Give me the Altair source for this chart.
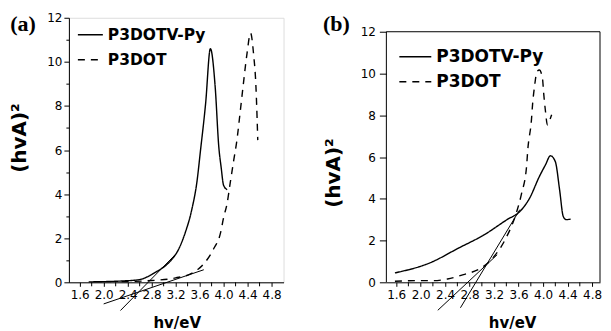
import altair as alt
import pandas as pd

SERIES = ["P3DOTV-Py", "P3DOT"]

# ---------------- panel (a) ----------------
a_py_x = [1.75, 2.00, 2.30, 2.59, 2.86, 3.09, 3.14, 3.25, 3.36, 3.47, 3.56, 3.61, 3.70, 3.78, 3.86, 3.92, 3.96, 4.00, 4.06]
a_py_y = [0.02, 0.03, 0.06, 0.12, 0.45, 0.90, 1.05, 1.50, 2.25, 3.30, 4.65, 5.86, 8.10, 10.60, 8.86, 6.15, 5.20, 4.40, 4.20]

a_dot_x = [2.30, 2.80, 3.20, 3.45, 3.58, 3.64, 3.83, 3.95, 4.00, 4.06, 4.11, 4.17, 4.22, 4.28, 4.33, 4.39, 4.45, 4.50, 4.54, 4.56, 4.57]
a_dot_y = [0.03, 0.08, 0.20, 0.38, 0.60, 0.75, 1.50, 2.25, 2.93, 3.60, 4.50, 5.55, 6.40, 7.80, 9.00, 10.36, 11.30, 10.36, 8.86, 7.36, 6.45]

a_tan_id = ["t1", "t1", "t2", "t2"]
a_tan_x = [2.00, 3.67, 2.28, 3.20]
a_tan_y = [-0.98, 0.57, -1.28, 1.27]

# ---------------- panel (b) ----------------
b_py_x = [1.58, 2.15, 2.62, 3.04, 3.41, 3.62, 3.78, 3.94, 4.04, 4.12, 4.20, 4.27, 4.33, 4.38, 4.45]
b_py_y = [0.45, 0.93, 1.64, 2.28, 3.00, 3.39, 4.03, 5.07, 5.63, 6.06, 5.78, 4.43, 3.15, 3.00, 3.03]

b_dot_x = [1.58, 1.94, 2.20, 2.44, 2.70, 2.99, 3.20, 3.38, 3.57, 3.65, 3.73, 3.75, 3.81, 3.83, 3.86, 3.90, 3.94, 3.99, 4.01, 4.04, 4.07, 4.12, 4.14]
b_dot_y = [0.05, 0.08, 0.08, 0.16, 0.37, 0.69, 1.24, 2.04, 3.39, 4.27, 5.54, 6.34, 7.78, 8.58, 9.37, 10.09, 10.17, 9.77, 9.05, 8.17, 7.54, 7.86, 8.02]

b_tan_id = ["t1", "t1", "t2", "t2"]
b_tan_x = [2.28, 3.25, 2.65, 3.62]
b_tan_y = [-1.34, 1.32, -1.22, 3.48]

# ---------------- ticks ----------------
x_major_ticks = [1.6, 2.0, 2.4, 2.8, 3.2, 3.6, 4.0, 4.4, 4.8]
x_minor_ticks = [1.8, 2.2, 2.6, 3.0, 3.4, 3.8, 4.2, 4.6]
y_ticks = [0, 1, 2, 3, 4, 5, 6, 7, 8, 9, 10, 11, 12]

TICK_FONT = "DejaVu Sans"
BOLD_FONT = "DejaVu Sans"


def panel(tag, py_x, py_y, dot_x, dot_y, tan_id, tan_x, tan_y, xdom, ydom,
          width, height, ytick_major, ytick_minor, ylabel_pad, ytitle_pad,
          ytitle_y, xtitle_x, leg_x, leg_y, leg_font, leg_size, leg_row_pad,
          tag_x, tag_y, boxed):
    curves = pd.concat([
        pd.DataFrame({"x": py_x, "y": py_y, "series": SERIES[0]}),
        pd.DataFrame({"x": dot_x, "y": dot_y, "series": SERIES[1]}),
    ])
    tangents = pd.DataFrame({"x": tan_x, "y": tan_y, "id": tan_id})
    minor = pd.DataFrame({"x": x_minor_ticks})

    xaxis = alt.Axis(
        values=x_major_ticks, format=".1f", labelOverlap=False, labelSeparation=0,
        labelFont=TICK_FONT, labelFontSize=12, labelColor="black",
        labelPadding=3, tickSize=4, tickColor="black", domainColor="black",
        grid=False, title="hv/eV", titleFont=BOLD_FONT, titleFontSize=15,
        titleFontWeight="bold", titleColor="black", titlePadding=15,
        titleX=xtitle_x, labelFlush=False, labelBound=False,
    )
    yaxis = alt.Axis(
        values=y_ticks,
        labelExpr="datum.value % 2 == 0 ? datum.value : ''",
        labelOverlap=False, labelFont=TICK_FONT, labelFontSize=12, labelColor="black",
        labelPadding=ylabel_pad,
        tickSize={"condition": {"test": "datum.value % 2 == 0", "value": ytick_major}, "value": ytick_minor},
        tickColor="black", domainColor="black", domain=not boxed,
        grid=False, title="(hvA)²", titleFont=BOLD_FONT, titleFontSize=20,
        titleFontWeight="bold", titleColor="black", titlePadding=ytitle_pad,
        titleY=ytitle_y, labelFlush=False, labelBound=False,
    )
    xs = alt.Scale(domain=xdom, nice=False, zero=False)
    ys = alt.Scale(domain=ydom, nice=False, zero=False)
    X = alt.X("x:Q", scale=xs, axis=xaxis)
    Y = alt.Y("y:Q", scale=ys, axis=yaxis)

    lines = alt.Chart(curves).mark_line(color="black", strokeWidth=1.4, interpolate="monotone").encode(
        x=X,
        y=Y,
        strokeDash=alt.StrokeDash(
            "series:N", title=None,
            scale=alt.Scale(domain=SERIES, range=[[1, 0], [7, 6]]),
            legend=alt.Legend(
                orient="none", legendX=leg_x, legendY=leg_y, symbolType="stroke",
                symbolStrokeColor="black", symbolStrokeWidth=1.5, symbolSize=leg_size,
                labelFont=BOLD_FONT, labelFontWeight="bold", labelFontSize=leg_font,
                labelColor="black", labelOffset=4, rowPadding=leg_row_pad, padding=0,
            ),
        ),
        order=alt.Order("x:Q"),
    )
    tan = alt.Chart(tangents).mark_line(color="black", strokeWidth=1).encode(
        x=X, y=Y, detail="id:N"
    )
    minor_ticks = alt.Chart(minor).mark_rule(color="black", strokeWidth=1).encode(
        x=X, y=alt.value(height), y2=alt.value(height + 4)
    )
    label = alt.Chart(pd.DataFrame({"t": [tag]})).mark_text(
        font="Liberation Serif", fontWeight="bold", fontSize=22, color="black",
        align="center", baseline="middle"
    ).encode(text="t:N", x=alt.value(tag_x), y=alt.value(tag_y))

    layers = [lines, tan, minor_ticks, label]
    if boxed:
        box_df = pd.DataFrame({"v": [ydom[0]]})
        top = alt.Chart(box_df).mark_rule(color="black", strokeWidth=1).encode(
            y=alt.datum(12), x=alt.value(0), x2=alt.value(width))
        left = alt.Chart(box_df).mark_rule(color="black", strokeWidth=1).encode(
            x=alt.value(0), y=alt.datum(0), y2=alt.datum(12))
        right = alt.Chart(box_df).mark_rule(color="black", strokeWidth=1).encode(
            x=alt.value(width), y=alt.datum(0), y2=alt.datum(12))
        layers += [top, left, right]

    ch = alt.layer(*layers).properties(width=width, height=height)
    if boxed:
        ch = ch.properties(view=alt.ViewBackground(stroke="transparent"))
    return ch


pa = panel("(a)", a_py_x, a_py_y, a_dot_x, a_dot_y, a_tan_id, a_tan_x, a_tan_y,
           [1.42, 5.0], [0, 12], 215, 265, 5, 3, 2, 17.5, 120, 108,
           8, 3.5, 15.5, 625, 3, -46, 6.5, False)
pb = panel("(b)", b_py_x, b_py_y, b_dot_x, b_dot_y, b_tan_id, b_tan_x, b_tan_y,
           [1.44, 4.93], [0, 12.67], 214, 265, 7, 4, 4, 17, 155, 126,
           12, 22, 17, 1024, -7, -50, 6, True)

chart = alt.hconcat(pa, pb, spacing=38).resolve_scale(
    x="independent", y="independent", strokeDash="independent"
).resolve_legend(strokeDash="independent").properties(
    padding={"left": 0, "top": 2.5, "right": 0, "bottom": 0}
).configure_view(stroke="black", strokeWidth=1).configure(background="white")

chart.save("out.html", embed_options={"renderer": "svg", "actions": False})
